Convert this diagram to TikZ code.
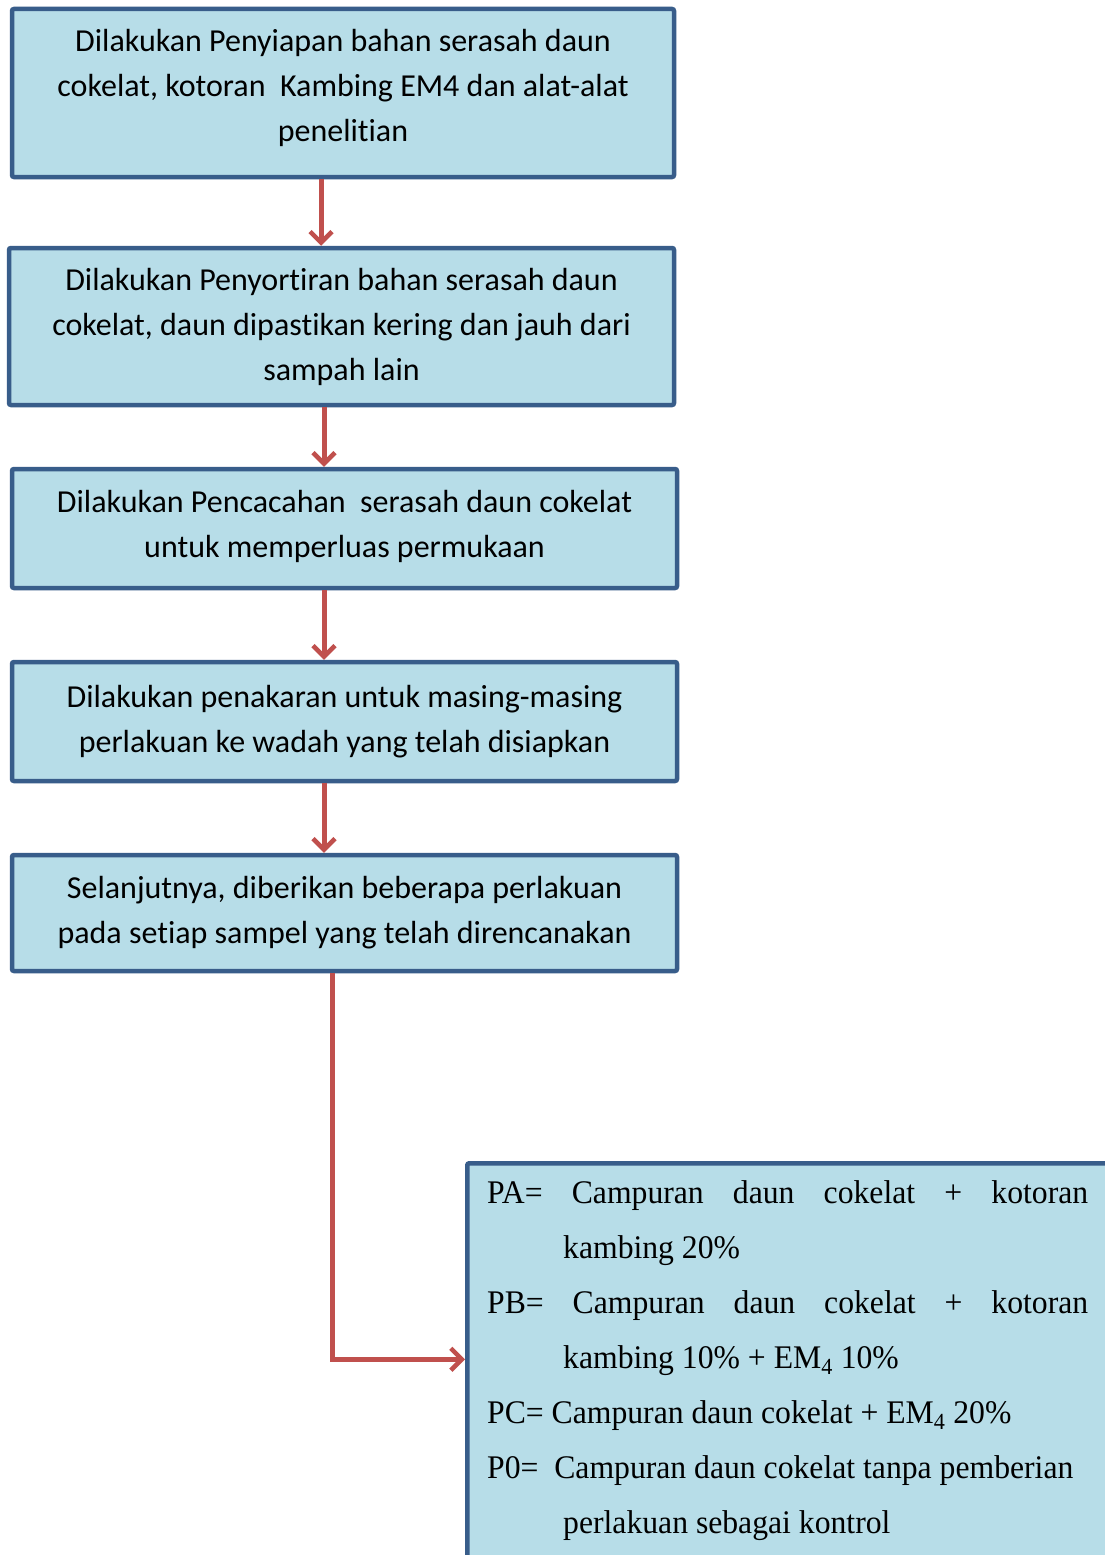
\documentclass[tikz,border=0pt]{standalone}
\usepackage{fontspec}
\setmainfont{Carlito}[Ligatures=NoCommon]
\newfontfamily\tnr{Liberation Serif}[FakeStretch=0.96]
\usetikzlibrary{arrows.meta}
\definecolor{boxfill}{HTML}{B7DDE8}
\definecolor{boxline}{HTML}{385D8A}
\definecolor{arrred}{HTML}{C0504D}
\tikzset{
  stepbox/.style={draw=boxline, fill=boxfill, line width=4.5pt, rounded corners=2pt,
    align=center, font=\fontsize{32}{45}\selectfont, inner sep=0pt},
  arr/.style={draw=arrred, line width=5pt,
    -{Straight Barb[length=11pt,width=22pt,line width=4.5pt]}},
}
\begin{document}
\begin{tikzpicture}[x=1pt,y=-1pt]
\useasboundingbox (0,0) rectangle (1105,1555);
\clip (0,0) rectangle (1105,1555);
\fill[white] (0,0) rectangle (1105,1555);

\node[stepbox, minimum width=662pt, minimum height=168pt] (b1) at (343,93)
  {Dilakukan Penyiapan bahan serasah daun\\cokelat, kotoran\ \ Kambing EM4 dan alat-alat\\penelitian\rule[-16pt]{0pt}{16pt}};
\node[stepbox, minimum width=665pt, minimum height=157pt] (b2) at (341.5,326.5)
  {Dilakukan Penyortiran bahan serasah daun\\cokelat, daun dipastikan kering dan jauh dari\\sampah lain};
\node[stepbox, minimum width=665pt, minimum height=119pt] (b3) at (344.5,528.5)
  {Dilakukan Pencacahan\ \ serasah daun cokelat\\untuk memperluas permukaan\rule[-9pt]{0pt}{9pt}};
\node[stepbox, minimum width=665pt, minimum height=119pt] (b4) at (344.5,721.5)
  {Dilakukan penakaran untuk masing-masing\\perlakuan ke wadah yang telah disiapkan};
\node[stepbox, minimum width=665pt, minimum height=116pt] (b5) at (344.5,913)
  {Selanjutnya, diberikan beberapa perlakuan\\pada setiap sampel yang telah direncanakan};

\node[draw=boxline, fill=boxfill, line width=4.5pt, rounded corners=2pt,
  minimum width=700pt, minimum height=420pt, anchor=north west, inner sep=0pt] (b6) at (465,1161) {};
\node[anchor=north west, inner sep=0pt, align=left,
  font=\tnr\fontsize{33}{55}\selectfont] (b6t) at (487,1180)
  {\hbox to 601pt{PA=\hfill Campuran\hfill daun\hfill cokelat\hfill +\hfill kotoran}\\
   \hspace*{76pt}kambing 20\%\\
   \hbox to 601pt{PB=\hfill Campuran\hfill daun\hfill cokelat\hfill +\hfill kotoran}\\
   \hspace*{76pt}kambing 10\% + EM\textsubscript{4} 10\%\\
   PC= Campuran daun cokelat + EM\textsubscript{4} 20\%\\
   P0=\ \ Campuran daun cokelat tanpa pemberian\\
   \hspace*{76pt}perlakuan sebagai kontrol};

\draw[arr] ([xshift=-22pt]b1.south) -- ([xshift=-22pt]b1.south |- b2.north);
\draw[arr] ([xshift=-17.5pt]b2.south) -- ([xshift=-17.5pt]b2.south |- b3.north);
\draw[arr] ([xshift=-20.5pt]b3.south) -- ([xshift=-20.5pt]b3.south |- b4.north);
\draw[arr] ([xshift=-20.5pt]b4.south) -- ([xshift=-20.5pt]b4.south |- b5.north);
\draw[arr] ([xshift=-12.5pt]b5.south) |- ([yshift=14pt]b6.west);
\end{tikzpicture}
\end{document}
